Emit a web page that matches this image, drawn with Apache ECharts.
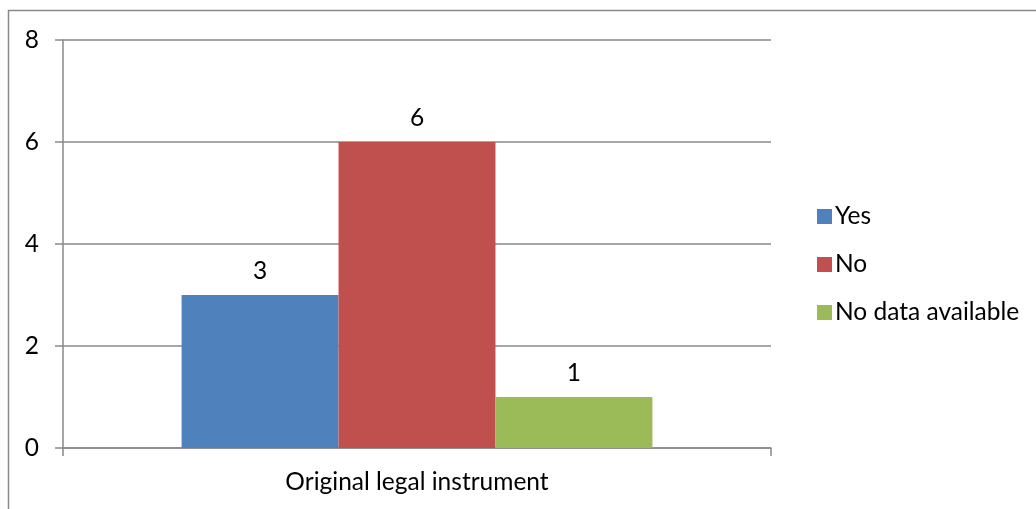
<!DOCTYPE html>
<html>
<head>
<meta charset="utf-8">
<script src="https://cdn.jsdelivr.net/npm/echarts@6/dist/echarts.min.js"></script>
<style>
  html, body { margin: 0; padding: 0; background: #fff; }
  #chart { width: 1036px; height: 509px; }
</style>
</head>
<body>
<div id="chart"></div>
<script>
// Categories and series values
const categories = ['Original legal instrument'];
const seriesNames = ['Yes', 'No', 'No data available'];
const yesValues = [3];
const noValues = [6];
const noDataValues = [1];
const seriesColors = ['#4F81BD', '#C0504D', '#9BBB59'];

const FONT = 'Lato, "Open Sans", sans-serif';
const FONT_SIZE = 24.5;
const TEXT_COLOR = '#000';
const LINE_COLOR = '#898989';

const valueSets = [yesValues, noValues, noDataValues];

const chart = echarts.init(document.getElementById('chart'), null, { renderer: 'canvas' });

chart.setOption({
  animation: false,
  backgroundColor: '#fff',
  graphic: [{
    type: 'rect',
    shape: { x: 8.5, y: 10.5, width: 1100, height: 600 },
    style: { fill: 'none', stroke: LINE_COLOR, lineWidth: 1.5 },
    silent: true
  }],
  grid: { left: 63, right: 265, top: 40, bottom: 61, containLabel: false },
  legend: {
    orient: 'vertical',
    left: 812,
    top: 199,
    itemWidth: 15,
    itemHeight: 15,
    itemGap: 23,
    icon: 'rect',
    textStyle: { fontFamily: FONT, fontSize: FONT_SIZE, color: TEXT_COLOR, padding: [0, 0, 0, -2] },
    data: seriesNames
  },
  xAxis: {
    type: 'category',
    data: categories,
    axisLine: { lineStyle: { color: LINE_COLOR, width: 1.5 } },
    axisTick: { show: true, length: 8, lineStyle: { color: LINE_COLOR, width: 1.5 } },
    axisLabel: { fontFamily: FONT, fontSize: FONT_SIZE, color: TEXT_COLOR, margin: 22 }
  },
  yAxis: {
    type: 'value',
    min: 0,
    max: 8,
    interval: 2,
    axisLine: { show: true, lineStyle: { color: LINE_COLOR, width: 1.5 } },
    axisTick: { show: true, length: 8, lineStyle: { color: LINE_COLOR, width: 1.5 } },
    splitLine: { show: true, lineStyle: { color: LINE_COLOR, width: 1.5 } },
    axisLabel: { fontFamily: FONT, fontSize: FONT_SIZE, color: TEXT_COLOR, margin: 24 }
  },
  series: seriesNames.map((name, i) => ({
    name,
    type: 'bar',
    data: valueSets[i],
    barGap: '0%',
    barCategoryGap: '33.5%',
    itemStyle: { color: seriesColors[i] },
    label: {
      show: true,
      position: 'top',
      distance: 11,
      fontFamily: FONT,
      fontSize: FONT_SIZE,
      color: TEXT_COLOR
    }
  }))
});
</script>
</body>
</html>
